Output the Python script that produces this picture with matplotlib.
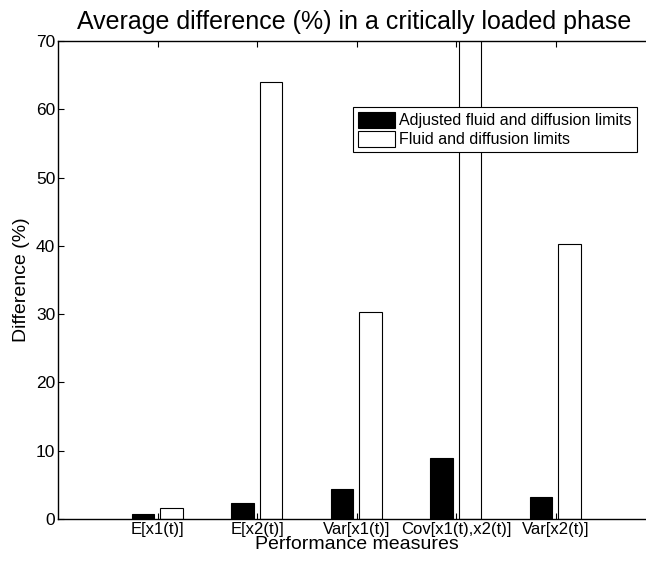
import matplotlib
matplotlib.use("Agg")
import matplotlib.pyplot as plt
import numpy as np

# Average difference (%) per performance measure, critically loaded phase
measures = ["E[x1(t)]", "E[x2(t)]", "Var[x1(t)]", "Cov[x1(t),x2(t)]", "Var[x2(t)]"]
adjusted = [0.7, 2.3, 4.35, 9.0, 3.2]
plain = [1.6, 64.0, 30.3, 75.0, 40.3]

plt.rcParams["font.family"] = ["Liberation Sans", "DejaVu Sans"]

fig = plt.figure(figsize=(6.46, 5.62), dpi=100)
# the axes run a little past the right edge of the figure on purpose
ax = fig.add_axes([58 / 646, 43 / 562, 597 / 646, 478 / 562])

x = np.arange(1, len(measures) + 1)
w = 0.225
ax.bar(x - 0.145, adjusted, w, color="black", edgecolor="black",
       linewidth=0.8, label="Adjusted fluid and diffusion limits")
ax.bar(x + 0.14, plain, w, color="white", edgecolor="black",
       linewidth=0.8, label="Fluid and diffusion limits")

ax.set_xlim(0, 6)
ax.set_ylim(0, 70)
ax.set_xticks(x)
ax.set_xticklabels(measures, fontsize=12)
ax.set_yticks(np.arange(0, 71, 10))
ax.tick_params(direction="in", top=True, right=False, length=4, width=0.8)
ax.tick_params(axis="y", labelsize=12.5, pad=2)
ax.tick_params(axis="x", pad=2.5)
for s in ax.spines.values():
    s.set_linewidth(1.0)
ax.spines["right"].set_visible(False)

ax.set_xlabel("Performance measures", fontsize=14, labelpad=-1)
ax.set_ylabel("Difference (%)", fontsize=14, labelpad=4)
fig.text(354 / 646, 1 - 22 / 562, "Average difference (%) in a critically loaded phase",
         ha="center", va="center", fontsize=18)

leg = ax.legend(loc="upper left", bbox_to_anchor=(353 / 646, 1 - 107 / 562),
                bbox_transform=fig.transFigure, borderaxespad=0, fontsize=11.5,
                fancybox=False, framealpha=1, edgecolor="black",
                handlelength=2.3, handleheight=1.2, handletextpad=0.3,
                labelspacing=0.15, borderpad=0.3)
leg.get_frame().set_linewidth(0.8)

fig.savefig("out.png", dpi=100)
